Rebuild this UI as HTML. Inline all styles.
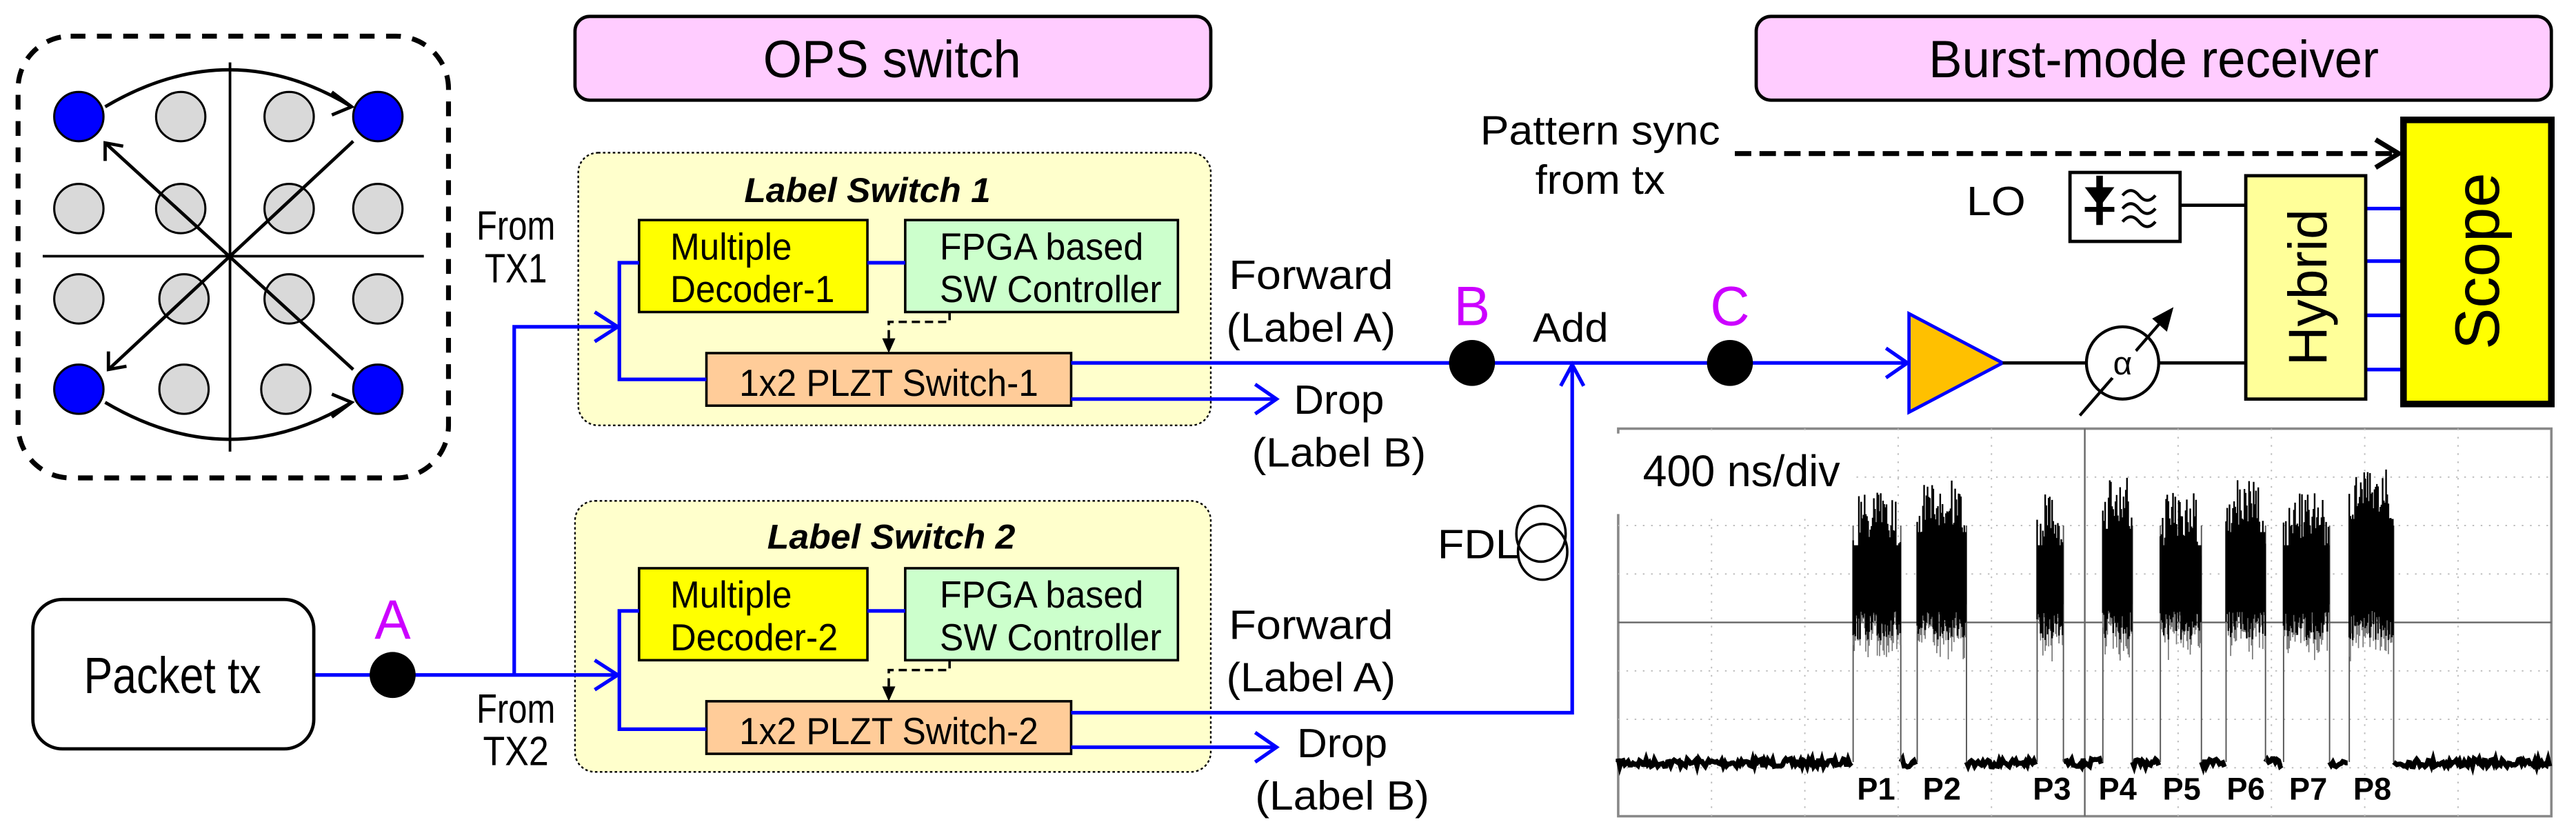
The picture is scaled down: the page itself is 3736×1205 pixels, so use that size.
<!DOCTYPE html>
<html><head><meta charset="utf-8"><style>
html,body{margin:0;padding:0;background:#fff;}
svg{display:block;}
text{font-family:"Liberation Sans Narrow","Liberation Sans",Arial,sans-serif;}
</style></head><body>
<svg id="s" xmlns="http://www.w3.org/2000/svg" width="3736" height="1205" viewBox="0 0 1568 506" preserveAspectRatio="none">
<rect width="1568" height="506" fill="#fff"/>
<!-- constellation -->
<rect x="11" y="22" width="262" height="269" rx="32" fill="none" stroke="#000" stroke-width="3" stroke-dasharray="9,7"/>
<line x1="140" y1="38" x2="140" y2="275" stroke="#000" stroke-width="1.6"/>
<line x1="26" y1="156" x2="258" y2="156" stroke="#000" stroke-width="1.6"/>
<g stroke="#000" stroke-width="1.3">
<ellipse cx="110" cy="71" rx="15" ry="15" fill="#d9d9d9"/><ellipse cx="176" cy="71" rx="15" ry="15" fill="#d9d9d9"/>
<ellipse cx="48" cy="127" rx="15" ry="15" fill="#d9d9d9"/><ellipse cx="110" cy="127" rx="15" ry="15" fill="#d9d9d9"/><ellipse cx="176" cy="127" rx="15" ry="15" fill="#d9d9d9"/><ellipse cx="230" cy="127" rx="15" ry="15" fill="#d9d9d9"/>
<ellipse cx="48" cy="182" rx="15" ry="15" fill="#d9d9d9"/><ellipse cx="112" cy="182" rx="15" ry="15" fill="#d9d9d9"/><ellipse cx="176" cy="182" rx="15" ry="15" fill="#d9d9d9"/><ellipse cx="230" cy="182" rx="15" ry="15" fill="#d9d9d9"/>
<ellipse cx="112" cy="237" rx="15" ry="15" fill="#d9d9d9"/><ellipse cx="174" cy="237" rx="15" ry="15" fill="#d9d9d9"/>
<ellipse cx="48" cy="71" rx="15" ry="15" fill="#0000ff"/><ellipse cx="230" cy="71" rx="15" ry="15" fill="#0000ff"/>
<ellipse cx="48" cy="237" rx="15" ry="15" fill="#0000ff"/><ellipse cx="230" cy="237" rx="15" ry="15" fill="#0000ff"/>
</g>
<g stroke="#000" stroke-width="2" fill="none">
<line x1="215" y1="225" x2="64" y2="87"/><polyline points="64,98 64,87 75,89"/>
<line x1="215" y1="86" x2="66" y2="225"/><polyline points="66,214 66,225 77,223"/>
<path d="M64,65 Q140,20 214,65"/><polyline points="202,56 214,65 202,70"/>
<path d="M64,245 Q140,290 214,245"/><polyline points="202,240 214,245 202,254"/>
</g>
<!-- headers -->
<rect x="350" y="10" width="387" height="51" rx="9" fill="#ffccff" stroke="#000" stroke-width="2"/>
<text x="543" y="47" font-size="32" text-anchor="middle" textLength="157" lengthAdjust="spacingAndGlyphs">OPS switch</text>
<rect x="1069" y="10" width="484" height="51" rx="9" fill="#ffccff" stroke="#000" stroke-width="2"/>
<text x="1311" y="47" font-size="32" text-anchor="middle" textLength="274" lengthAdjust="spacingAndGlyphs">Burst-mode receiver</text>
<!-- label switch boxes -->
<rect x="352" y="93" width="385" height="166" rx="12" fill="#ffffcc" stroke="#000" stroke-width="1" stroke-dasharray="1.5,1.5"/>
<rect x="350" y="305" width="387" height="165" rx="12" fill="#ffffcc" stroke="#000" stroke-width="1" stroke-dasharray="1.5,1.5"/>
<text x="453" y="123" font-size="21" font-weight="bold" font-style="italic" textLength="150" lengthAdjust="spacingAndGlyphs">Label Switch 1</text>
<text x="467" y="334" font-size="21" font-weight="bold" font-style="italic" textLength="151" lengthAdjust="spacingAndGlyphs">Label Switch 2</text>
<g stroke="#000" stroke-width="1.5">
<rect x="389" y="134" width="139" height="56" fill="#ffff00"/><rect x="551" y="134" width="166" height="56" fill="#ccffcc"/>
<rect x="430" y="215" width="222" height="32" fill="#ffcc99"/>
<rect x="389" y="346" width="139" height="56" fill="#ffff00"/><rect x="551" y="346" width="166" height="56" fill="#ccffcc"/>
<rect x="430" y="427" width="222" height="32" fill="#ffcc99"/>
</g>
<g font-size="23">
<text x="408" y="158" textLength="74" lengthAdjust="spacingAndGlyphs">Multiple</text>
<text x="408" y="184" textLength="100" lengthAdjust="spacingAndGlyphs">Decoder-1</text>
<text x="572" y="158" textLength="124" lengthAdjust="spacingAndGlyphs">FPGA based</text>
<text x="572" y="184" textLength="135" lengthAdjust="spacingAndGlyphs">SW Controller</text>
<text x="541" y="241" text-anchor="middle" textLength="182" lengthAdjust="spacingAndGlyphs">1x2 PLZT Switch-1</text>
<text x="408" y="370" textLength="74" lengthAdjust="spacingAndGlyphs">Multiple</text>
<text x="408" y="396" textLength="102" lengthAdjust="spacingAndGlyphs">Decoder-2</text>
<text x="572" y="370" textLength="124" lengthAdjust="spacingAndGlyphs">FPGA based</text>
<text x="572" y="396" textLength="135" lengthAdjust="spacingAndGlyphs">SW Controller</text>
<text x="541" y="453" text-anchor="middle" textLength="182" lengthAdjust="spacingAndGlyphs">1x2 PLZT Switch-2</text>
</g>
<!-- dashed control -->
<g stroke="#000" stroke-width="1.5" fill="none" stroke-dasharray="5,3">
<polyline points="578,190 578,196 541,196 541,210"/>
<polyline points="578,402 578,408 541,408 541,422"/>
</g>
<polygon points="537,206 545,206 541,215" fill="#000"/>
<polygon points="537,418 545,418 541,427" fill="#000"/>
<!-- blue lines -->
<g stroke="#0000ff" stroke-width="2.2" fill="none">
<line x1="528" y1="160" x2="551" y2="160"/><line x1="528" y1="372" x2="551" y2="372"/>
<polyline points="389,160 377,160 377,231 430,231"/>
<polyline points="389,372 377,372 377,444 430,444"/>
<polyline points="191,411 376,411"/>
<polyline points="313,411 313,199 376,199"/>
<polyline points="362,190 376,199 362,208"/><polyline points="362,402 376,411 362,420"/>
<line x1="652" y1="221" x2="1160" y2="221"/>
<line x1="652" y1="243" x2="777" y2="243"/><polyline points="764,234 777,243 764,252"/>
<polyline points="652,434 957,434 957,222"/><polyline points="950,235 957,222 964,235"/>
<line x1="652" y1="455" x2="777" y2="455"/><polyline points="764,446 777,455 764,464"/>
<polyline points="1148,212 1161,221 1148,230"/>
<line x1="1440" y1="127" x2="1463" y2="127"/><line x1="1440" y1="159" x2="1463" y2="159"/>
<line x1="1440" y1="192" x2="1463" y2="192"/><line x1="1440" y1="225" x2="1463" y2="225"/>
</g>
<!-- packet tx -->
<rect x="20" y="365" width="171" height="91" rx="18" fill="#fff" stroke="#000" stroke-width="2"/>
<text x="105" y="422" font-size="31" text-anchor="middle" textLength="108" lengthAdjust="spacingAndGlyphs">Packet tx</text>
<circle cx="239" cy="411" r="14" fill="#000"/>
<circle cx="896" cy="221" r="14" fill="#000"/>
<circle cx="1053" cy="221" r="14" fill="#000"/>
<g fill="#cc00ff" font-size="34" text-anchor="middle" font-family="Liberation Sans,sans-serif">
<text x="239" y="389" textLength="22" lengthAdjust="spacingAndGlyphs">A</text><text x="896" y="198" textLength="22" lengthAdjust="spacingAndGlyphs">B</text><text x="1053" y="198" textLength="24" lengthAdjust="spacingAndGlyphs">C</text>
</g>
<g font-size="25" text-anchor="middle">
<text x="314" y="146" textLength="48" lengthAdjust="spacingAndGlyphs">From</text><text x="314" y="172" textLength="38" lengthAdjust="spacingAndGlyphs">TX1</text>
<text x="314" y="440" textLength="48" lengthAdjust="spacingAndGlyphs">From</text><text x="314" y="466" textLength="40" lengthAdjust="spacingAndGlyphs">TX2</text>
<text x="798" y="176" textLength="100" lengthAdjust="spacingAndGlyphs">Forward</text><text x="798" y="208" textLength="103" lengthAdjust="spacingAndGlyphs">(Label A)</text>
<text x="815" y="252" textLength="55" lengthAdjust="spacingAndGlyphs">Drop</text><text x="815" y="284" textLength="106" lengthAdjust="spacingAndGlyphs">(Label B)</text>
<text x="798" y="389" textLength="100" lengthAdjust="spacingAndGlyphs">Forward</text><text x="798" y="421" textLength="103" lengthAdjust="spacingAndGlyphs">(Label A)</text>
<text x="817" y="461" textLength="55" lengthAdjust="spacingAndGlyphs">Drop</text><text x="817" y="493" textLength="106" lengthAdjust="spacingAndGlyphs">(Label B)</text>
<text x="956" y="208" textLength="46" lengthAdjust="spacingAndGlyphs">Add</text>
<text x="900" y="340" textLength="50" lengthAdjust="spacingAndGlyphs">FDL</text>
<text x="974" y="88" textLength="146" lengthAdjust="spacingAndGlyphs">Pattern sync</text><text x="974" y="118" textLength="79" lengthAdjust="spacingAndGlyphs">from tx</text>
<text x="1215" y="131" textLength="36" lengthAdjust="spacingAndGlyphs">LO</text>
</g>
<!-- FDL coil -->
<ellipse cx="938" cy="325" rx="15" ry="17" fill="none" stroke="#000" stroke-width="1.5"/>
<ellipse cx="939" cy="336" rx="15" ry="17" fill="none" stroke="#000" stroke-width="1.5"/>
<!-- pattern sync dashed -->
<line x1="1056" y1="93.5" x2="1458" y2="93.5" stroke="#000" stroke-width="3" stroke-dasharray="10,5"/>
<polyline points="1446,85 1460,93.5 1446,102" fill="none" stroke="#000" stroke-width="3"/>
<!-- amp etc -->
<polygon points="1162,191 1162,251 1219,221" fill="#ffc000" stroke="#0000ff" stroke-width="2"/>
<line x1="1219" y1="221" x2="1270" y2="221" stroke="#000" stroke-width="2"/>
<circle cx="1292" cy="221" r="22" fill="#fff" stroke="#000" stroke-width="1.8"/>
<line x1="1266" y1="253" x2="1318" y2="193" stroke="#000" stroke-width="1.8"/>
<circle cx="1292" cy="221" r="11" fill="#fff"/>
<text x="1292" y="228" font-size="20" text-anchor="middle" font-family="Liberation Sans,sans-serif">α</text>
<polygon points="1323,187 1310,194 1319,202" fill="#000"/>
<line x1="1314" y1="221" x2="1367" y2="221" stroke="#000" stroke-width="2"/>
<rect x="1260" y="105" width="67" height="42" fill="#fff" stroke="#000" stroke-width="2"/>
<polygon points="1269,114 1287,114 1278,126" fill="#000"/><rect x="1269" y="126" width="18" height="3" fill="#000"/><rect x="1276" y="107" width="4" height="30" fill="#000"/>
<g fill="none" stroke="#000" stroke-width="1.8"><path d="M1292,119 q5,-6 10,0 t10,0"/><path d="M1292,127 q5,-6 10,0 t10,0"/><path d="M1292,135 q5,-6 10,0 t10,0"/></g>
<line x1="1327" y1="125" x2="1367" y2="125" stroke="#000" stroke-width="2"/>
<rect x="1367" y="107" width="73" height="136" fill="#ffff99" stroke="#000" stroke-width="2"/>
<text transform="translate(1416,175) rotate(-90)" font-size="33" text-anchor="middle" font-family="Liberation Sans,sans-serif">Hybrid</text>
<rect x="1463" y="73" width="90" height="173" fill="#ffff00" stroke="#000" stroke-width="4"/>
<text transform="translate(1521,159) rotate(-90)" font-size="38" text-anchor="middle" font-family="Liberation Sans,sans-serif">Scope</text>
<!-- scope trace -->
<g id="scope">
<rect x="985" y="261" width="568" height="236" fill="#fff" stroke="#888" stroke-width="1.5"/>
<g id="grid" stroke="#bbb" stroke-width="0.8" stroke-dasharray="1,4"></g>
<line x1="985" y1="379" x2="1553" y2="379" stroke="#666" stroke-width="1"/>
<line x1="1269" y1="261" x2="1269" y2="497" stroke="#666" stroke-width="1"/>
<g id="tr"></g>
<rect x="970" y="264" width="160" height="49" fill="#fff"/>
<text x="1000" y="296" font-size="27" textLength="120" lengthAdjust="spacingAndGlyphs">400 ns/div</text>
<g font-size="19" font-weight="bold" text-anchor="middle">
<text x="1142" y="487">P1</text><text x="1182" y="487">P2</text><text x="1249" y="487">P3</text><text x="1289" y="487">P4</text><text x="1328" y="487">P5</text><text x="1367" y="487">P6</text><text x="1405" y="487">P7</text><text x="1444" y="487">P8</text>
</g>
</g>
<script>
(function(){
var NS="http://www.w3.org/2000/svg",g=document.getElementById("grid"),t=document.getElementById("tr");
function el(n,a,p){var e=document.createElementNS(NS,n);for(var k in a)e.setAttribute(k,a[k]);p.appendChild(e);return e;}
for(var i=1;i<10;i++){var x=985+i*56.8;el("line",{x1:x,y1:261,x2:x,y2:497},g);}
for(var j=1;j<8;j++){var y=261+j*29.5;el("line",{x1:985,y1:y,x2:1553,y2:y},g);}
var seed=7;function r(){seed=(seed*16807)%2147483647;return seed/2147483647;}
var P=[[1128,1157,300],[1167,1197,292],[1240,1256,300],[1280,1298,290],[1315,1340,300],[1355,1379,292],[1390,1418,300],[1430,1457,284]];
var d="M985,464";for(var x=985;x<1553;x+=1){var inP=P.some(function(p){return x>=p[0]&&x<=p[1];});if(!inP)d+="L"+x+","+(462+r()*5).toFixed(1);else d+="M"+x+",464";}
el("path",{d:d,stroke:"#000","stroke-width":"3",fill:"none"},t);
P.forEach(function(p){
 el("line",{x1:p[0],y1:320,x2:p[0],y2:464,stroke:"#555","stroke-width":"0.8"},t);
 el("line",{x1:p[1],y1:320,x2:p[1],y2:464,stroke:"#555","stroke-width":"0.8"},t);
 el("rect",{x:p[0],y:p[2]+32,width:p[1]-p[0],height:368-(p[2]+32),fill:"#000"},t);
 for(var x=p[0];x<=p[1];x+=0.7){
  var top=p[2]+r()*28+ (x-p[0]<3||p[1]-x<3?15:0);
  var bot=372+r()*18;
  el("line",{x1:x,y1:top,x2:x,y2:bot,stroke:"#000","stroke-width":"1"},t);
  el("line",{x1:x,y1:bot,x2:x,y2:bot+r()*14,stroke:"#777","stroke-width":"0.7"},t);
 }
});
})();
</script>
</svg>
</body></html>
